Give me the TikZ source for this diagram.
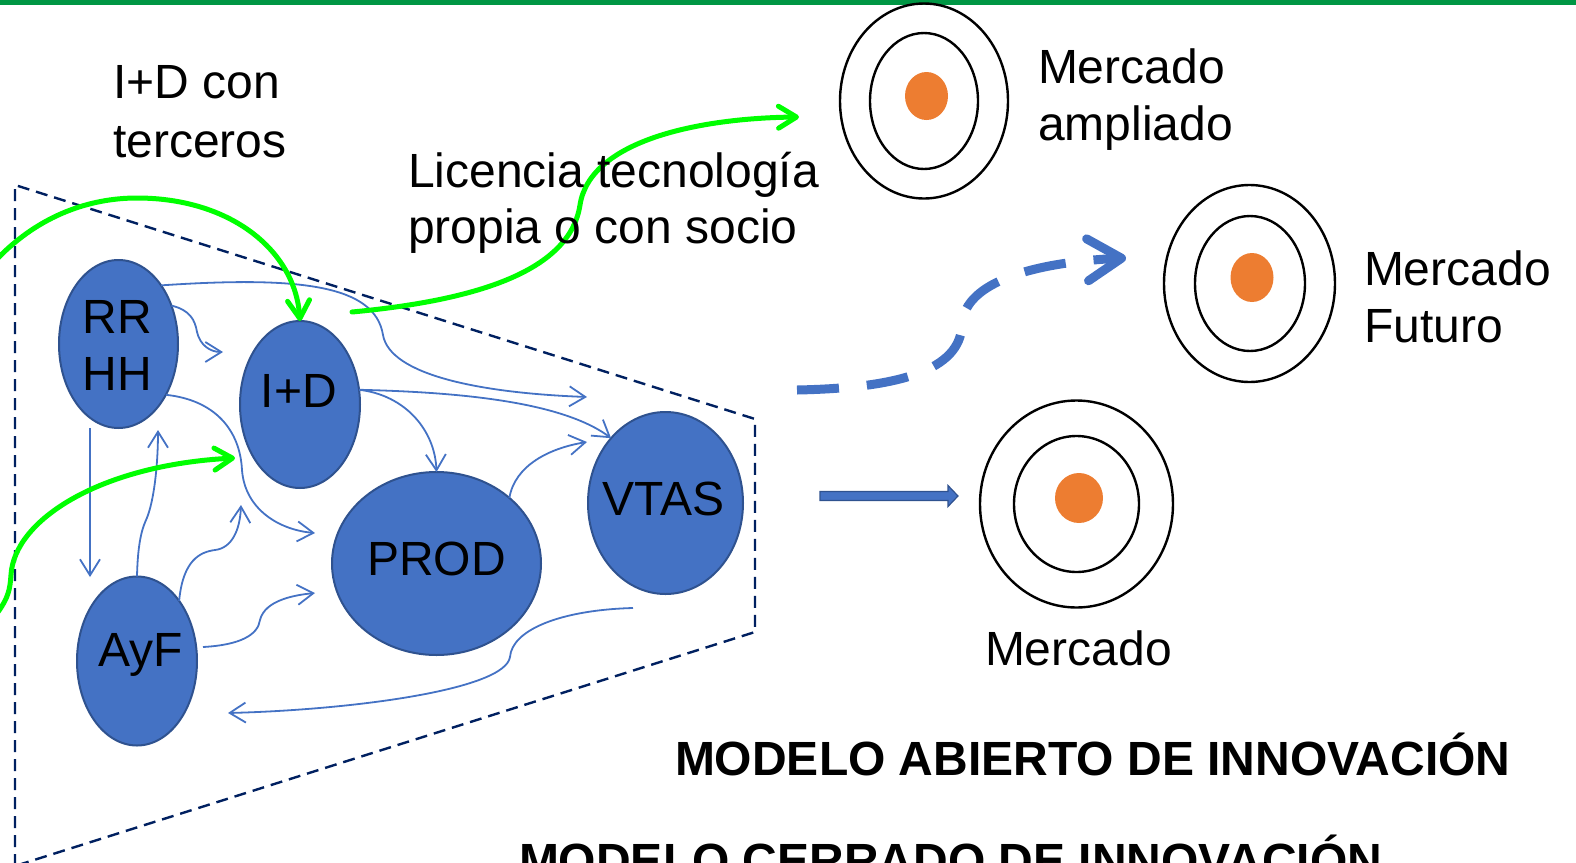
\documentclass[tikz,border=0pt]{standalone}
\usepackage{fontspec}
\setmainfont{Liberation Sans}
\usetikzlibrary{arrows.meta,shapes.geometric}

\definecolor{cBlue}{HTML}{4472C4}
\definecolor{cEdge}{HTML}{2F528F}
\definecolor{cNavy}{HTML}{002060}
\definecolor{cGreen}{RGB}{0,255,0}
\definecolor{cBar}{RGB}{0,150,68}
\definecolor{cOrange}{HTML}{ED7D31}

\begin{document}
\begin{tikzpicture}[y=0.5pt, x=0.5pt, yscale=-1, inner sep=0pt, outer sep=0pt,
  unit/.style={ellipse, draw=cEdge, fill=cBlue, line width=1pt},
  ring/.style={ellipse, draw=black, line width=1.2pt},
  core/.style={ellipse, fill=cOrange},
  link/.style={draw=cBlue, line width=0.9pt, -{Straight Barb[length=8pt,width=10pt]}},
  ext/.style={draw=cGreen, line width=2.5pt, line cap=round,
    -{Straight Barb[length=9pt,width=11pt,round]}},
  lbl/.style={anchor=base, font=\fontsize{24}{28}\selectfont},
  txt/.style={lbl, anchor=base west},
  head/.style={txt, font=\fontsize{24}{28}\selectfont\bfseries}]
\clip (0,0) rectangle (1576,863);
\path[fill=cBar] (0,0) rectangle (1576,5);

% empresa
\path[draw=cNavy, dash pattern=on 6pt off 3.5pt, line width=1.2pt]
  (15,866) -- (15,185) -- (755,419) -- (755,632) -- cycle;

\node[unit, minimum width=59.5pt, minimum height=84pt] (unitRRHH) at (118.5,344) {};
\node[unit, minimum width=60pt, minimum height=83.5pt] (unitID) at (300,404.5) {};
\node[unit, minimum width=60pt, minimum height=84.5pt] (unitAyF) at (137,661) {};
\node[unit, minimum width=104.5pt, minimum height=91.5pt] (unitPROD) at (436.5,563.5) {};
\node[unit, minimum width=77.5pt, minimum height=91pt] (unitVTAS) at (665.5,503) {};
\node[lbl] (textRR) at (117.5,333) {RR};
\node[lbl] (textHH) at (117.5,390) {HH};
\node[lbl] (textID) at (299,407) {I+D};
\node[lbl] (textAyF) at (141,666) {AyF};
\node[lbl] (textPROD) at (436.5,575) {PROD};
\node[lbl] (textVTAS) at (663.5,515) {VTAS};

% flujos internos
\coordinate (hrVTin) at (587,397);
\coordinate (hrIDin) at (223,352);
\coordinate (hrPRin) at (315,533);
\coordinate (hrOut) at (90,428);
\coordinate (hrAFin) at (90,577);
\coordinate (afHRin) at (158,430);
\coordinate (afIDin) at (241,505);
\coordinate (afOut) at (203,647);
\coordinate (afPRin) at (315,593);
\coordinate (prVTin) at (587,442);
\coordinate (vtOut) at (633,608);
\coordinate (vtAFin) at (228,713);
\path[link] (unitRRHH.54) .. controls (300,276) and (375,285) .. (383,335)
  .. controls (390,375) and (480,393) .. (hrVTin);
\path[link] (unitRRHH.36) .. controls (190,310) and (195,320) .. (197,332)
  .. controls (200,345) and (210,352) .. (hrIDin);
\path[link] (unitRRHH.-47) .. controls (215,400) and (240,430) .. (242,470)
  .. controls (245,510) and (280,530) .. (hrPRin);
\path[link] (hrOut) -- (hrAFin);
\path[link] (unitAyF.north) .. controls (138,530) and (146,522) .. (148,515)
  .. controls (155,495) and (158,460) .. (afHRin);
\path[link] (unitAyF.55) .. controls (183,560) and (200,552) .. (215,550)
  .. controls (232,548) and (240,530) .. (afIDin);
\path[link] (afOut) .. controls (240,645) and (258,635) .. (260,620)
  .. controls (265,600) and (295,595) .. (afPRin);
\path[link] (unitID.14) .. controls (450,392) and (560,400) .. (unitVTAS.130);
\path[link] (unitID.14) .. controls (405,395) and (435,430) .. (unitPROD.north);
\path[link] (unitPROD.42) .. controls (515,465) and (550,448) .. (prVTin);
\path[link] (vtOut) .. controls (560,610) and (512,630) .. (510,657)
  .. controls (505,690) and (350,710) .. (vtAFin);

% flujos externos
\coordinate (extTop) at (-2,258);
\coordinate (extLow) at (-2,612);
\coordinate (extLowIn) at (235,458);
\coordinate (licOut) at (352,312);
\coordinate (licIn) at (799,117);
\path[ext] (extTop) .. controls (40,215) and (90,198) .. (137,198)
  .. controls (230,198) and (295,250) .. (unitID.north);
\path[ext] (extLow) .. controls (8,598) and (10,590) .. (11,575)
  .. controls (14,520) and (100,465) .. (extLowIn);
\path[ext] (licOut) .. controls (480,300) and (570,270) .. (580,205)
  .. controls (590,140) and (700,118) .. (licIn);

% mercados
\node[ring, minimum width=84pt, minimum height=97.5pt] (ringAmpA) at (924,101) {};
\node[ring, minimum width=54pt, minimum height=68pt] (ringAmpB) at (924,101) {};
\node[core, minimum width=21.5pt, minimum height=24pt] (coreAmp) at (926.5,96) {};
\node[ring, minimum width=85.5pt, minimum height=98.5pt] (ringFutA) at (1249.5,283.5) {};
\node[ring, minimum width=55pt, minimum height=67.5pt] (ringFutB) at (1250,283.5) {};
\node[core, minimum width=21.5pt, minimum height=24.5pt] (coreFut) at (1252,277.5) {};
\node[ring, minimum width=96.5pt, minimum height=103.5pt] (ringMerA) at (1076.5,504) {};
\node[ring, minimum width=62.5pt, minimum height=68pt] (ringMerB) at (1076.5,504) {};
\node[core, minimum width=24pt, minimum height=25pt] (coreMer) at (1079,498) {};

\coordinate (futOut) at (797,390);
\coordinate (futIn) at (1126,258);
\path[draw=cBlue, line width=4.5pt, dash pattern=on 21pt off 14pt,
  -{Straight Barb[length=17pt,width=21pt,round]}]
  (futOut) .. controls (900,388) and (960,370) .. (962,325)
  .. controls (964,280) and (1040,262) .. (futIn);
\path[draw=cEdge, fill=cBlue, line width=0.6pt]
  (820,491.5) -- (948,491.5) -- (948,485.5) -- (958,496) -- (948,506.5)
  -- (948,500.5) -- (820,500.5) -- cycle;

% textos
\node[txt] (textTerA) at (113,98) {I+D con};
\node[txt] (textTerB) at (113,157) {terceros};
\node[txt] (textLicA) at (408,187) {Licencia tecnología};
\node[txt] (textLicB) at (408,243) {propia o con socio};
\node[txt] (textAmpA) at (1038,83) {Mercado};
\node[txt] (textAmpB) at (1038,140) {ampliado};
\node[txt] (textFutA) at (1364,285) {Mercado};
\node[txt] (textFutB) at (1364,342) {Futuro};
\node[txt] (textMer) at (985,665) {Mercado};
\node[head] (textAbierto) at (675,775) {MODELO ABIERTO DE INNOVACIÓN};
\node[head] (textCerrado) at (519,877) {MODELO CERRADO DE INNOVACIÓN};
\end{tikzpicture}
\end{document}
